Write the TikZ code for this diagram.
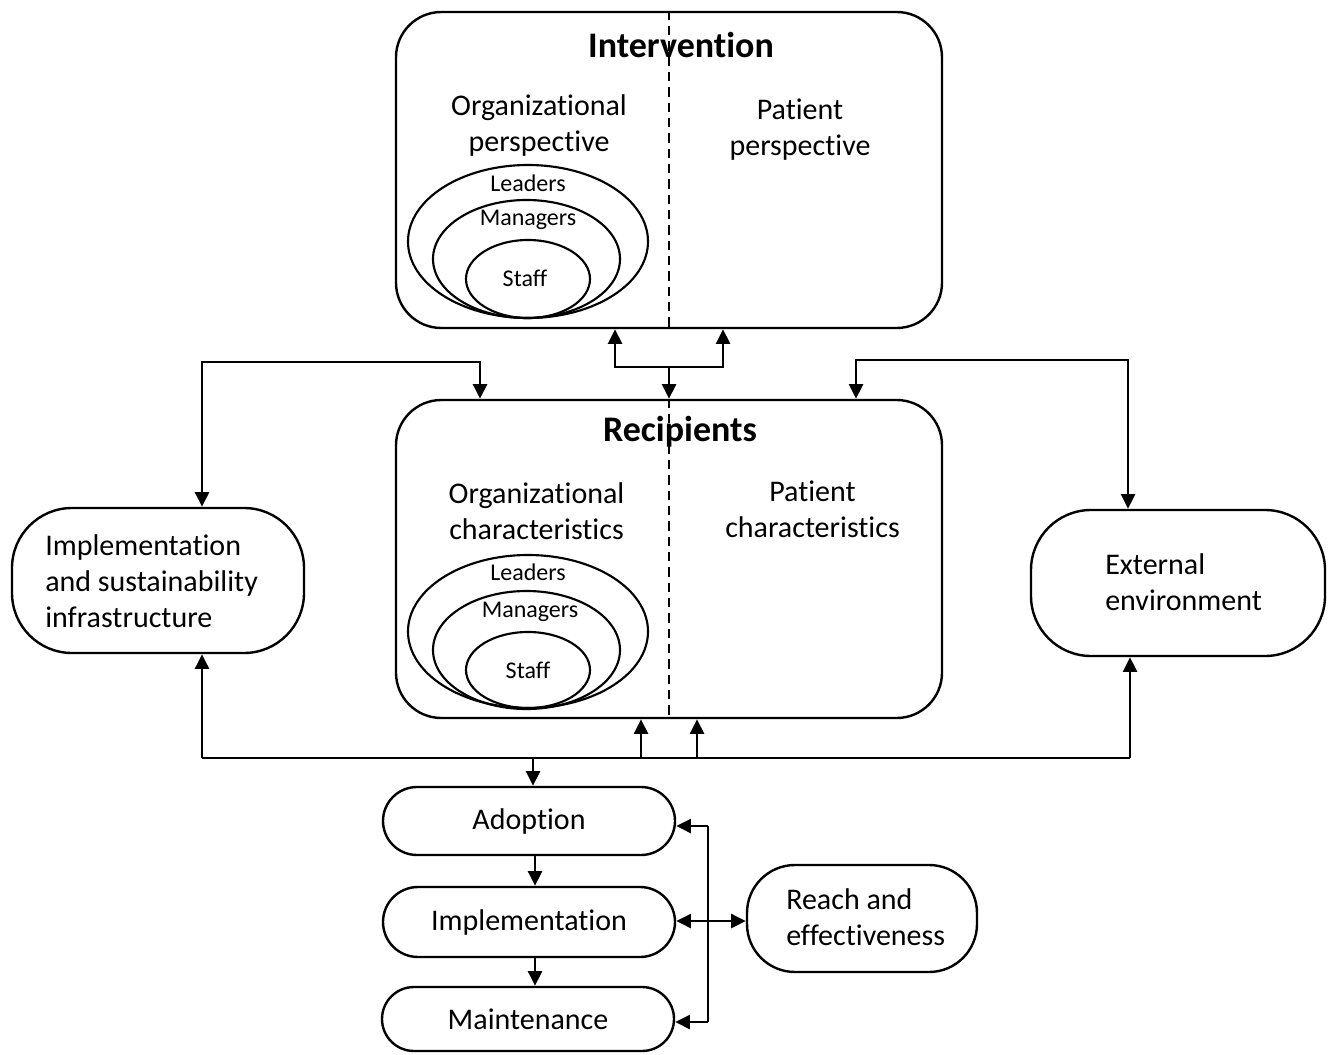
\documentclass[tikz,border=0pt]{standalone}
\usepackage{fontspec}
\setmainfont{Carlito}[Ligatures={NoCommon}]
\usetikzlibrary{arrows.meta,shapes.misc,shapes.geometric,calc}
\begin{document}
\begin{tikzpicture}[x=0.75pt,y=-0.75pt,
  bigbox/.style={draw,line width=1.8pt,rectangle,rounded corners=34pt,inner sep=0},
  sidebox/.style={draw,line width=1.8pt,rectangle,rounded corners=45pt,inner sep=0},
  pill/.style={draw,line width=1.8pt,rounded rectangle,inner sep=0},
  arr/.style={line width=1.7pt,-{Triangle[length=11pt,width=10.5pt]}},
  dbl/.style={line width=1.7pt,{Triangle[length=11pt,width=10.5pt]}-{Triangle[length=11pt,width=10.5pt]}},
  plain/.style={line width=1.7pt},
  lbl/.style={font=\fontsize{22.5}{27}\selectfont,align=center,inner sep=0},
  lbll/.style={font=\fontsize{22.5}{27}\selectfont,align=left,inner sep=0,anchor=west},
  ttl/.style={font=\fontsize{27}{32}\selectfont\bfseries,inner sep=0},
  sml/.style={font=\fontsize{18}{21}\selectfont,inner sep=0},
  ell/.style={draw,ellipse,line width=1.6pt,inner sep=0},
  dsh/.style={line width=1.5pt,dash pattern=on 7pt off 4.5pt}
]
\useasboundingbox (0,0) rectangle (1334,1055);

% ---------- Intervention ----------
\node[bigbox,minimum width=409.5pt,minimum height=237pt] (int) at (669,170) {};
\draw[dsh] (int.north) -- (int.south);
\node[ttl] (intT) at (681,45) {Intervention};
\node[lbl] (intO) at (539,126) {Organizational\\perspective};
\node[lbl] (intP) at (800,130) {Patient\\perspective};
\node[ell,minimum width=180pt,minimum height=114.75pt] (iE1) at (528,241.5) {};
\node[ell,minimum width=140.25pt,minimum height=88.5pt] (iE2) at (526.5,259) {};
\node[ell,minimum width=93pt,minimum height=58.5pt] (iE3) at (528,279) {};
\node[sml] (iL) at (528,183) {Leaders};
\node[sml] (iM) at (528,220) {Managers};
\node[sml] (iS) at (525,278) {Staff};

% ---------- Recipients ----------
\node[bigbox,minimum width=409.5pt,minimum height=238.5pt] (rec) at (669,559) {};
\draw[dsh] (rec.north) -- (rec.south);
\node[ttl] (recT) at (680,432) {Recipients};
\node[lbl] (recO) at (536.5,511) {Organizational\\characteristics};
\node[lbl] (recP) at (812.5,509.5) {Patient\\characteristics};
\node[ell,minimum width=180pt,minimum height=114.75pt] (rE1) at (528,631.5) {};
\node[ell,minimum width=140.25pt,minimum height=88.5pt] (rE2) at (526.5,650) {};
\node[ell,minimum width=93pt,minimum height=57pt] (rE3) at (528,670) {};
\node[sml] (rL) at (528,572) {Leaders};
\node[sml] (rM) at (530,612) {Managers};
\node[sml] (rS) at (528,670) {Staff};

% ---------- Side boxes ----------
\node[sidebox,minimum width=219pt,minimum height=108.75pt] (impl) at (158,580.5) {};
\node[lbll] (implT) at (45,581) {Implementation\\and sustainability\\infrastructure};
\node[sidebox,minimum width=220.5pt,minimum height=109.5pt] (ext) at (1178,583) {};
\node[lbll] (extT) at (1105,582) {External\\environment};

% ---------- Bottom boxes ----------
\node[pill,minimum width=219pt,minimum height=51pt,font=\fontsize{22.5}{27}\selectfont] (adopt) at (529,821) {Adoption};
\node[pill,minimum width=219pt,minimum height=52.5pt,font=\fontsize{22.5}{27}\selectfont] (imp2) at (529,922) {Implementation};
\node[pill,minimum width=219pt,minimum height=48pt,font=\fontsize{22.5}{27}\selectfont] (maint) at (528,1019) {Maintenance};
\node[sidebox,rounded corners=36pt,minimum width=172.5pt,minimum height=80.25pt] (reach) at (862,918.5) {};
\node[lbll] (reachT) at (786,917) {Reach and\\effectiveness};

% ---------- Connectors: intervention <-> recipients ----------
\coordinate (m) at (669,367);
\coordinate (ma) at (615,367);
\coordinate (mb) at (723,367);
\draw[arr] (m) -- (rec.north);
\draw[arr] (m) -- (ma) -- (ma |- int.south);
\draw[arr] (m) -- (mb) -- (mb |- int.south);

% ---------- Left and right loops ----------
\coordinate (lt) at (480,362);
\coordinate (lc) at (202,362);
\draw[dbl] (lt |- rec.north) -- (lt) -- (lc) -- (lc |- impl.north);
\coordinate (rt) at (856,360);
\coordinate (rc) at (1128,360);
\draw[dbl] (rt |- rec.north) -- (rt) -- (rc) -- (rc |- ext.north);

% ---------- Bottom bus ----------
\coordinate (bl) at (202,758);
\coordinate (br) at (1130,758);
\coordinate (b1) at (641,758);
\coordinate (b2) at (697,758);
\coordinate (b3) at (533,758);
\draw[plain] (bl) -- (br);
\draw[arr] (bl) -- (bl |- impl.south);
\draw[arr] (br) -- (br |- ext.south);
\draw[arr] (b1) -- (b1 |- rec.south);
\draw[arr] (b2) -- (b2 |- rec.south);
\draw[arr] (b3) -- (b3 |- adopt.north);

% ---------- Bottom chain ----------
\coordinate (c1) at (535,855);
\coordinate (c2) at (535,957);
\draw[arr] (c1 |- adopt.south) -- (c1 |- imp2.north);
\draw[arr] (c2 |- imp2.south) -- (c2 |- maint.north);

% ---------- Bracket to reach ----------
\coordinate (v1) at (708,826);
\coordinate (v2) at (708,1022);
\draw[plain] (v1) -- (v2);
\draw[arr] (v1) -- (v1 -| adopt.east);
\draw[arr] (v2) -- (v2 -| maint.east);
\coordinate (h) at (708,921);
\draw[dbl] (h -| imp2.east) -- (h -| reach.west);
\end{tikzpicture}
\end{document}
